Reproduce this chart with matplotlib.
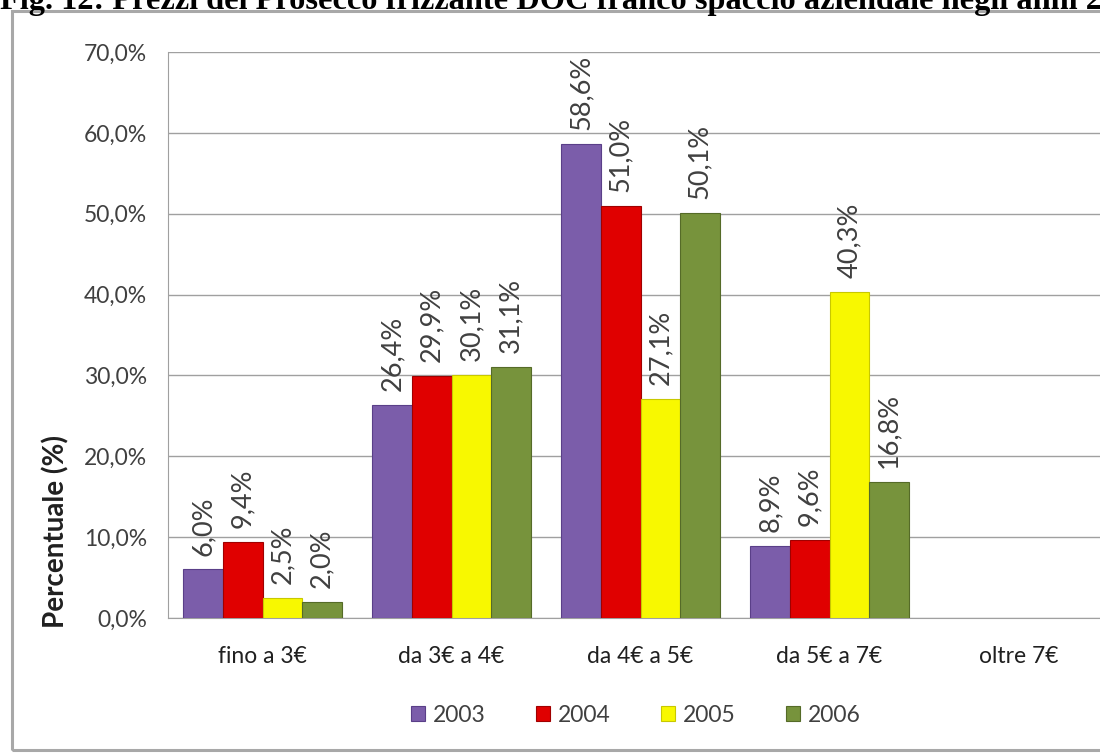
import numpy as np
import matplotlib
matplotlib.use("Agg")
import matplotlib.pyplot as plt
from matplotlib.patches import Rectangle

categories = ["fino a 3€", "da 3€ a 4€", "da 4€ a 5€", "da 5€ a 7€", "oltre 7€"]
years = ["2003", "2004", "2005", "2006"]
share_2003 = [6.0, 26.4, 58.6, 8.9, None]
share_2004 = [9.4, 29.9, 51.0, 9.6, None]
share_2005 = [2.5, 30.1, 27.1, 40.3, None]
share_2006 = [2.0, 31.1, 50.1, 16.8, None]
y_ticks = [0, 10, 20, 30, 40, 50, 60, 70]

series = [share_2003, share_2004, share_2005, share_2006]
colors = ["#7B5DAA", "#E00000", "#F8F800", "#77933C"]
edges = ["#5A3F88", "#A00000", "#C8C800", "#556B28"]

plt.rcParams["font.family"] = ["Lato", "DejaVu Sans"]

W, H = 1100, 753
fig = plt.figure(figsize=(W / 100, H / 100), dpi=100)

# chart frame, drawn behind the axes
frame = Rectangle((12 / W, 3 / H), 1.2, 1 - 14 / H, transform=fig.transFigure,
                  facecolor="none", edgecolor="#A8A8A8", linewidth=2.2, zorder=-1)
fig.patches.append(frame)

fig.text(0.0, 1 - 9 / H,
         "Fig. 12: Prezzi del Prosecco frizzante DOC franco spaccio aziendale negli anni 2003-2006",
         family="Liberation Serif", fontweight="bold", fontsize=23.3, va="baseline", ha="left")

ax_left, ax_bottom = 168 / W, (H - 618) / H
ax_h = (618 - 52) / H
ax_w = 945 / W
ax = fig.add_axes([ax_left, ax_bottom, ax_w, ax_h])

x = np.arange(len(categories))
width = 0.209
for i, (vals, year) in enumerate(zip(series, years)):
    pos = x + (i - 1.5) * width
    heights = [np.nan if v is None else v for v in vals]
    ax.bar(pos, heights, width=width, color=colors[i], edgecolor=edges[i],
           linewidth=0.8, label=year, zorder=3)
    for p, v in zip(pos, vals):
        if v is None:
            continue
        ax.annotate(f"{v:.1f}%".replace(".", ","), (p, v), xytext=(0, 10),
                    textcoords="offset points", rotation=90, ha="center", va="bottom",
                    fontsize=19.5, color="#404040")

ax.set_xlim(-0.5, len(categories) - 0.5)
ax.set_ylim(0, 70)
ax.set_yticks(y_ticks)
ax.set_yticklabels([f"{t:.1f}%".replace(".", ",") for t in y_ticks], fontsize=16.5, color="#404040")
ax.set_xticks(x)
ax.set_xticklabels(categories, fontsize=16.5, color="#202020")
ax.tick_params(axis="x", length=0, pad=20)
ax.tick_params(axis="y", length=0, pad=15)
ax.grid(axis="y", color="#A0A0A0", linewidth=1, zorder=0)
for side in ["top", "right"]:
    ax.spines[side].set_visible(False)
ax.spines["left"].set_color("#A0A0A0")
ax.spines["bottom"].set_color("#A0A0A0")

fig.text(56 / W, 1 - 531 / H, "Percentuale (%)", rotation=90, ha="center", va="center",
         fontsize=20, fontweight="bold", color="#202020")

leg = fig.legend(loc="center", bbox_to_anchor=(636 / W, 1 - 715 / H), ncol=4, frameon=False,
                 fontsize=16.5, handlelength=0.6, handleheight=0.6, handletextpad=0.35,
                 columnspacing=2.2)
for t in leg.get_texts():
    t.set_color("#404040")

fig.savefig("out.png", dpi=100)
